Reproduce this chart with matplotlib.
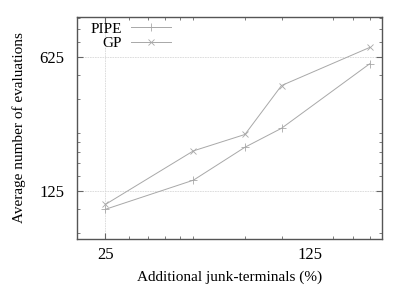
import numpy as np
import matplotlib
matplotlib.use("Agg")
import matplotlib.pyplot as plt
from matplotlib.ticker import FixedLocator, NullFormatter, FixedFormatter

x_vals = [25, 50, 75, 100, 200]
pipe_vals = [100, 142, 211, 265, 575]
gp_vals = [106, 202, 246, 443, 700]
x_ticks = [25, 125]
y_ticks = [125, 625]

plt.rcParams['font.family'] = ['Liberation Serif', 'DejaVu Serif']

fig = plt.figure(figsize=(4.07, 2.85), dpi=100)
ax = fig.add_axes([77/407, 1-239/285, (381.7-77)/407, (239-17)/285])

lc = '#a8a8a8'
ax.plot(x_vals, pipe_vals, color=lc, lw=0.7, marker='+', ms=6, mew=0.6, label='PIPE')
ax.plot(x_vals, gp_vals, color=lc, lw=0.7, marker='x', ms=5, mew=0.6, label='GP')

ax.set_xscale('log')
ax.set_yscale('log')
ax.set_xlim(20, 220)
ax.set_ylim(70, 1010)

def minors(bases):
    out = []
    for b in bases:
        for m in [1.2, 1.4, 1.6, 1.8, 2, 3, 4]:
            out.append(b * m)
    return out

ax.xaxis.set_major_locator(FixedLocator(x_ticks))
ax.xaxis.set_major_formatter(FixedFormatter([str(v) for v in x_ticks]))
ax.yaxis.set_major_locator(FixedLocator(y_ticks))
ax.yaxis.set_major_formatter(FixedFormatter([str(v) for v in y_ticks]))
ax.xaxis.set_minor_locator(FixedLocator(minors([5, 25, 125, 625])))
ax.yaxis.set_minor_locator(FixedLocator(minors([5, 25, 125, 625])))
ax.xaxis.set_minor_formatter(NullFormatter())
ax.yaxis.set_minor_formatter(NullFormatter())

ax.tick_params(which='both', direction='in', top=True, right=True, color='#666666',
               labelsize=12)
ax.tick_params(axis='x', which='major', pad=6)
ax.tick_params(axis='y', which='major', pad=9)
ax.tick_params(which='major', length=4, width=0.8)
ax.tick_params(which='minor', length=2, width=0.6)
xt = ax.xaxis.get_major_ticks()
xt[1].tick1line.set_visible(False)
xt[1].tick2line.set_visible(False)

for s in ax.spines.values():
    s.set_color('#555555')
    s.set_linewidth(1.0)

ax.axvline(25, color='#d8d8d8', lw=0.6, ls=(0, (2, 1)), zorder=0)
for yv in y_ticks:
    ax.axhline(yv, color='#d8d8d8', lw=0.6, ls=(0, (2, 1)), zorder=0)

ax.set_xlabel('Additional junk-terminals (%)', fontsize=11, labelpad=5)
ax.set_ylabel('Average number of evaluations', fontsize=11, labelpad=10)

leg = ax.legend(loc='upper left', frameon=False, fontsize=11, markerfirst=False,
                handlelength=2.6, borderaxespad=0.0, handletextpad=0.6,
                labelspacing=0.05, bbox_to_anchor=(0.025, 1.005))
for t in leg.get_texts():
    t.set_ha('right')

fig.savefig('out.png', dpi=100)
